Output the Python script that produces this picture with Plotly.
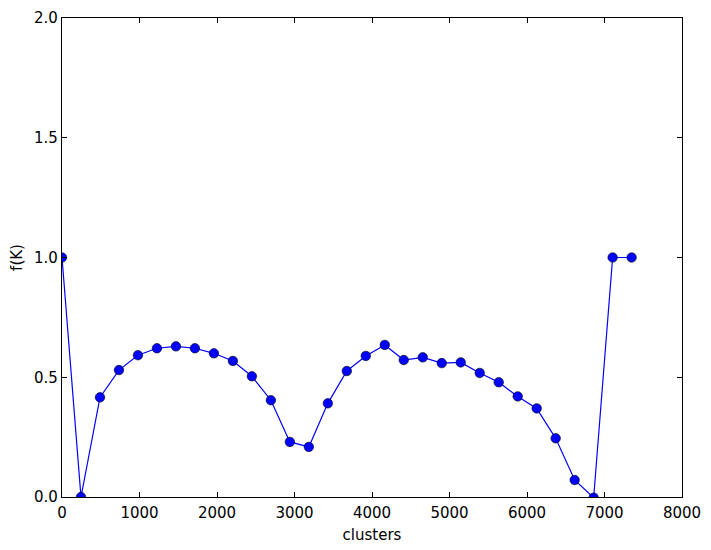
import plotly.graph_objects as go

clusters = [i * 245 for i in range(31)]
fk = [1.0, 0.0, 0.416, 0.530, 0.592, 0.621, 0.629, 0.621, 0.600, 0.568, 0.504, 0.404, 0.230,
      0.209, 0.391, 0.526, 0.589, 0.635, 0.572, 0.583, 0.559, 0.562, 0.518, 0.479, 0.420,
      0.370, 0.245, 0.071, -0.003, 1.0, 1.0]

x_ticks = [0, 1000, 2000, 3000, 4000, 5000, 6000, 7000, 8000]
y_ticks = [0.0, 0.5, 1.0, 1.5, 2.0]

fig = go.Figure()
fig.add_trace(go.Scatter(
    x=clusters, y=fk, mode="lines+markers",
    line=dict(color="#0000ff", width=1.2),
    marker=dict(color="#0000ff", size=9.5, line=dict(color="black", width=0.6)),
    cliponaxis=True,
))

axis_style = dict(
    showgrid=False, zeroline=False, showline=True, linecolor="black", linewidth=1.2,
    mirror="ticks", ticks="inside", ticklen=5, tickwidth=1, tickcolor="black",
    tickfont=dict(family="DejaVu Sans", size=15, color="black"),
    automargin=False,
)

# page body has an 8px margin, so the figure is a bit smaller and margins shifted
fig.update_layout(
    width=703, height=542,
    margin=dict(l=54, r=29, t=10, b=53),
    plot_bgcolor="white", paper_bgcolor="white",
    showlegend=False,
    font=dict(family="DejaVu Sans", size=15, color="black"),
    xaxis=dict(range=[0, 8000], tickvals=x_ticks, tickformat="d", ticklabelstandoff=2,
               title=dict(text="clusters", standoff=8,
                          font=dict(family="DejaVu Sans", size=15)), **axis_style),
    yaxis=dict(range=[0, 2.0], tickvals=y_ticks, tickformat=".1f",
               title=dict(text="f(K)", standoff=8,
                          font=dict(family="DejaVu Sans", size=15)), **axis_style),
)

fig.write_html("out.html")
